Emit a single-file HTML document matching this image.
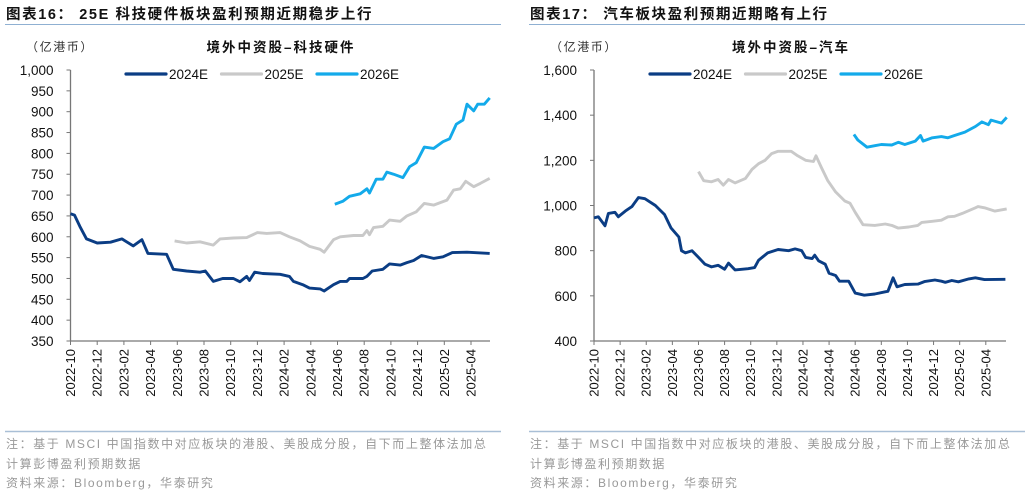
<!DOCTYPE html>
<html><head><meta charset="utf-8">
<style>
body{margin:0;background:#fff;width:1030px;height:496px;overflow:hidden;font-family:"Liberation Sans","Noto Sans CJK SC",sans-serif;}
svg text{font-family:"Liberation Sans","Noto Sans CJK SC",sans-serif;}
.note{letter-spacing:1.6px;}
.ft{letter-spacing:1.6px;}
.ct{letter-spacing:2px;}
</style></head>
<body>
<svg id="s" width="1030" height="496" xmlns="http://www.w3.org/2000/svg">
<g>
<text class="ft" x="6" y="19" font-size="14.5" font-weight="bold" fill="#111">图表16：  25E 科技硬件板块盈利预期近期稳步上行</text>
<line x1="5" y1="24.5" x2="501" y2="24.5" stroke="#8fb0d2" stroke-width="1"/>
<text class="note" x="26" y="51" font-size="12" fill="#333">（亿港币）</text>
<text class="ct" x="281" y="52" font-size="13.5" font-weight="bold" fill="#111" text-anchor="middle">境外中资股–科技硬件</text>
<text class="note" x="6" y="448" font-size="12" fill="#999">注：基于 MSCI 中国指数中对应板块的港股、美股成分股，自下而上整体法加总</text>
<text class="note" x="6" y="468" font-size="12" fill="#999">计算彭博盈利预期数据</text>
<text class="note" x="6" y="487" font-size="12" fill="#999">资料来源：Bloomberg，华泰研究</text>
<line x1="5" y1="431.5" x2="501" y2="431.5" stroke="#a9bfd6" stroke-width="1.5"/>
<g id="L"></g>
</g>
<g>
<text class="ft" x="530" y="19" font-size="14.5" font-weight="bold" fill="#111">图表17：  汽车板块盈利预期近期略有上行</text>
<line x1="529" y1="24.5" x2="1025" y2="24.5" stroke="#8fb0d2" stroke-width="1"/>
<text class="note" x="550" y="51" font-size="12" fill="#333">（亿港币）</text>
<text class="ct" x="791" y="52" font-size="13.5" font-weight="bold" fill="#111" text-anchor="middle">境外中资股–汽车</text>
<text class="note" x="530" y="448" font-size="12" fill="#999">注：基于 MSCI 中国指数中对应板块的港股、美股成分股，自下而上整体法加总</text>
<text class="note" x="530" y="468" font-size="12" fill="#999">计算彭博盈利预期数据</text>
<text class="note" x="530" y="487" font-size="12" fill="#999">资料来源：Bloomberg，华泰研究</text>
<line x1="529" y1="431.5" x2="1025" y2="431.5" stroke="#a9bfd6" stroke-width="1.5"/>
<g id="R"></g>
</g>
</svg>
<script>
const xTickLabels = ["2022-10","2022-12","2023-02","2023-04","2023-06","2023-08","2023-10","2023-12","2024-02","2024-04","2024-06","2024-08","2024-10","2024-12","2025-02","2025-04"];
const colors = ["#0b3d84","#c9c9c9","#13aaea"];

const techYTicks = [350,400,450,500,550,600,650,700,750,800,850,900,950,1000];
const tech2024M = [0,0.3,0.7,1.2,2,3,3.85,4.7,5.35,5.8,7.2,7.7,8.7,9.7,10.1,10.7,11.4,12.2,12.7,13.2,13.4,13.8,14.4,15.7,16.4,16.7,17.4,17.9,18.7,19,19.7,20.2,20.7,20.9,21.9,22.2,22.6,23.4,23.9,24.7,25.2,25.7,26.3,27.2,27.9,28.6,29.7,31.4];
const tech2024V = [655,652,625,595,585,587,595,578,593,560,558,522,518,515,518,493,500,500,492,505,495,515,512,510,505,493,485,477,475,470,485,493,493,500,500,505,518,522,535,532,538,543,555,548,552,562,563,560];
const tech2025M = [7.8,8.7,9.7,10.7,11.2,12.2,13.2,14,14.7,15.7,16.4,17.2,17.9,18.7,19,19.7,20.2,21.2,21.9,22.2,22.4,22.7,23.4,23.9,24.7,25.2,25.9,26.5,27.2,28.2,28.7,29.2,29.6,30.2,30.7,31.4];
const tech2025V = [590,585,588,580,595,597,598,610,608,610,600,590,577,570,563,593,600,603,603,615,605,622,625,640,637,650,660,680,676,688,712,715,733,720,728,740];
const tech2026M = [19.8,20.4,20.9,21.7,22.2,22.4,22.9,23.4,23.7,24.2,24.9,25.4,25.9,26.5,27.2,27.9,28.4,28.9,29.4,29.7,30.2,30.5,31,31.4];
const tech2026V = [678,685,697,703,715,705,738,738,755,750,742,768,778,815,812,828,835,870,880,918,902,918,918,933];

const autoYTicks = [400,600,800,1000,1200,1400,1600];
const auto2024M = [0,0.33,0.84,1.1,1.6,1.86,2.4,2.9,3.4,3.9,4.7,5.4,5.9,6.5,6.7,7.0,7.5,8.0,8.5,9.0,9.5,10.0,10.3,10.8,11.8,12.3,12.6,13.3,14.1,14.9,15.4,15.9,16.2,16.7,16.9,17.2,17.7,18.0,18.5,18.8,19.5,20.0,20.7,21.5,22.3,22.5,22.9,23.2,23.8,24.8,25.3,26.1,26.6,26.9,27.4,27.9,28.7,29.2,29.9,31.5];
const auto2024V = [945,950,910,965,970,950,975,995,1035,1030,1000,960,900,860,800,790,800,770,740,728,735,718,745,715,720,725,758,790,805,800,808,800,770,765,780,755,740,700,690,665,665,612,603,608,618,620,680,640,650,652,663,670,665,660,668,662,675,680,672,673];
const auto2025M = [8.0,8.4,9.0,9.5,9.9,10.3,10.8,11.6,12.1,12.6,13.1,13.6,14.1,15.1,15.6,16.2,16.8,17.0,17.4,17.9,18.5,19.2,19.6,20.0,20.6,21.5,22.3,22.8,23.3,24.1,24.8,25.1,25.9,26.6,27.1,27.6,28.2,29.2,29.4,29.9,30.7,31.6];
const auto2025V = [1150,1110,1105,1115,1090,1115,1100,1120,1160,1185,1200,1230,1240,1240,1220,1200,1195,1220,1170,1110,1060,1020,1010,970,915,912,918,912,900,905,912,925,930,935,950,952,965,990,995,990,975,985];
const auto2026M = [19.9,20.2,20.9,21.5,22.0,22.8,23.3,23.8,24.6,25.0,25.2,25.9,26.6,27.1,27.6,28.4,29.2,29.7,30.2,30.4,31.2,31.6];
const auto2026V = [1315,1290,1258,1265,1270,1268,1280,1270,1285,1310,1285,1300,1305,1300,1310,1325,1350,1370,1358,1378,1365,1390];

const NS="http://www.w3.org/2000/svg";
function mk(tag,parent){const e=document.createElementNS(NS,tag);parent.appendChild(e);return e;}

function drawChart(g, cfg){
  const x = m => cfg.x0 + m*cfg.mw;
  const y = v => cfg.yb - (v-cfg.ymin)/(cfg.ymax-cfg.ymin)*(cfg.yb-cfg.yt);
  const ya = mk('line',g);
  
  
  ya.setAttribute('x1',cfg.x0);ya.setAttribute('x2',cfg.x0);ya.setAttribute('y1',cfg.yt);ya.setAttribute('y2',cfg.yb);
  ya.setAttribute('stroke','#777');ya.setAttribute('stroke-width','1.3');
  const xa = mk('line',g);
  
  
  xa.setAttribute('x1',cfg.x0);xa.setAttribute('x2',cfg.xEnd);xa.setAttribute('y1',cfg.yb);xa.setAttribute('y2',cfg.yb);
  xa.setAttribute('stroke','#777');xa.setAttribute('stroke-width','1.3');
  cfg.yTicks.forEach(v=>{
    const t=mk('line',g);
    
    
    t.setAttribute('x1',cfg.x0-4);t.setAttribute('x2',cfg.x0);t.setAttribute('y1',y(v));t.setAttribute('y2',y(v));t.setAttribute('stroke','#777');
    const l=mk('text',g);
    
    
    l.setAttribute('x',cfg.x0-17);l.setAttribute('y',y(v)+5);l.setAttribute('text-anchor','end');l.setAttribute('font-size','13.5');l.setAttribute('fill','#111');
    l.textContent=v.toLocaleString('en-US');
  });
  xTickLabels.forEach((s,i)=>{
    const xx=x(i*2);
    const t=mk('line',g);
    
    
    t.setAttribute('x1',xx);t.setAttribute('x2',xx);t.setAttribute('y1',cfg.yb);t.setAttribute('y2',cfg.yb+4);t.setAttribute('stroke','#777');
    const l=mk('text',g);
    
    
    l.setAttribute('transform',`translate(${xx+4.5},${cfg.yb+8}) rotate(-90)`);
    l.setAttribute('text-anchor','end');l.setAttribute('font-size','13');l.setAttribute('fill','#111');
    l.textContent=s;
  });
  cfg.series.forEach((s,i)=>{
    const p=mk('path',g);
    
    
    p.setAttribute('d',s.m.map((m,k)=>(k?'L':'M')+x(m).toFixed(1)+' '+y(s.v[k]).toFixed(1)).join(''));
    p.setAttribute('fill','none');p.setAttribute('stroke',colors[i]);p.setAttribute('stroke-width','2.9');p.setAttribute('stroke-linejoin','round');
    const lx=cfg.legX+i*95.5;
    const ll=mk('line',g);
    
    
    ll.setAttribute('x1',lx);ll.setAttribute('x2',lx+40);ll.setAttribute('y1',74);ll.setAttribute('y2',74);ll.setAttribute('stroke',colors[i]);ll.setAttribute('stroke-width','3.2');ll.setAttribute('stroke-linecap','round');
    const lt=mk('text',g);
    
    
    lt.setAttribute('x',lx+43);lt.setAttribute('y',79);lt.setAttribute('font-size','13.5');lt.setAttribute('fill','#111');
    lt.textContent=s.name;
  });
}
drawChart(document.getElementById('L'),{x0:70.5,mw:13.35,xEnd:490,yt:70,yb:341,ymin:350,ymax:1000,yTicks:techYTicks,legX:126,
  series:[{name:"2024E",m:tech2024M,v:tech2024V},{name:"2025E",m:tech2025M,v:tech2025V},{name:"2026E",m:tech2026M,v:tech2026V}]});
drawChart(document.getElementById('R'),{x0:594,mw:13.06,xEnd:1006,yt:70,yb:341,ymin:400,ymax:1600,yTicks:autoYTicks,legX:650,
  series:[{name:"2024E",m:auto2024M,v:auto2024V},{name:"2025E",m:auto2025M,v:auto2025V},{name:"2026E",m:auto2026M,v:auto2026V}]});
</script>
</body></html>
